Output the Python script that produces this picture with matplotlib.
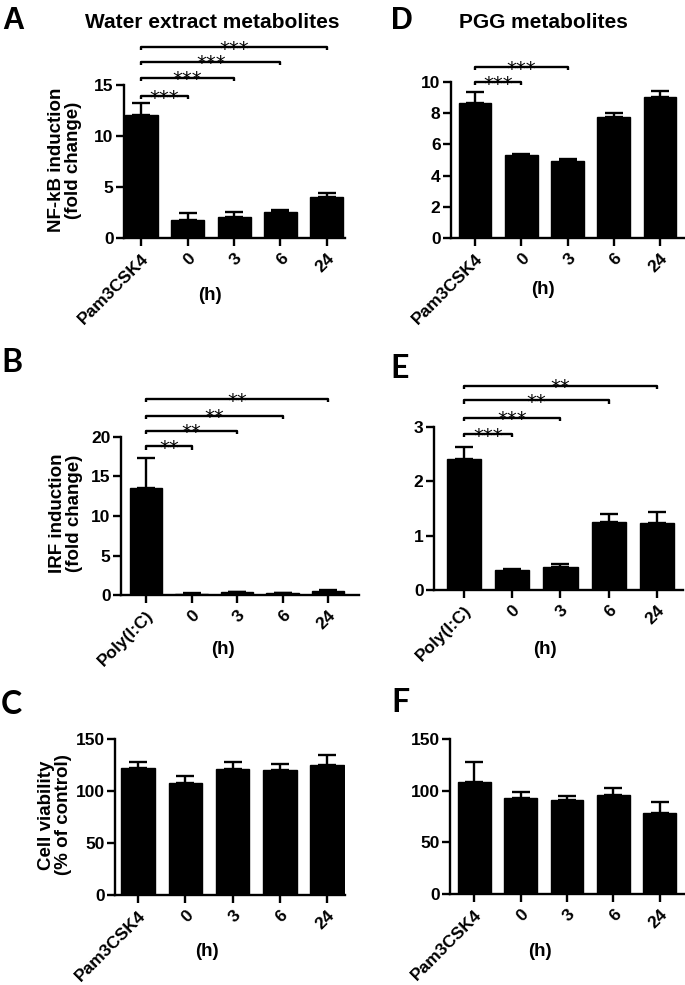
import matplotlib
matplotlib.use('Agg')
import matplotlib.pyplot as plt
import numpy as np

plt.rcParams['font.family'] = ['Liberation Sans', 'DejaVu Sans']
plt.rcParams['font.weight'] = 'bold'

W, H = 685, 985

# ---- data ----
pam_labels = ['Pam3CSK4', '0', '3', '6', '24']
poly_labels = ['Poly(I:C)', '0', '3', '6', '24']

# A: water extract, NF-kB
a_mean = [12.06, 1.76, 2.03, 2.52, 3.99]
a_err = [1.15, 0.66, 0.52, 0.23, 0.45]
a_sig = ['***', '***', '***', '***']
a_brk = [13.9, 15.7, 17.3, 18.7]

# B: water extract, IRF
b_mean = [13.6, 0.15, 0.35, 0.25, 0.5]
b_err = [3.8, 0.05, 0.05, 0.05, 0.08]
b_sig = ['**', '**', '**', '**']
b_brk = [18.8, 20.8, 22.7, 24.8]

# C: water extract, viability
c_mean = [121.9, 107.5, 121.4, 120.4, 124.6]
c_err = [5.8, 7.1, 6.1, 5.8, 10.3]

# D: PGG, NF-kB
d_mean = [8.67, 5.30, 4.95, 7.78, 9.03]
d_err = [0.69, 0.11, 0.11, 0.26, 0.37]
d_sig = ['***', '***']
d_brk = [10.0, 10.97]

# E: PGG, IRF
e_mean = [2.42, 0.36, 0.43, 1.26, 1.24]
e_err = [0.22, 0.02, 0.05, 0.14, 0.19]
e_sig = ['***', '***', '**', '**']
e_brk = [2.87, 3.17, 3.49, 3.76]

# F: PGG, viability
f_mean = [108.0, 93.3, 90.7, 96.1, 78.1]
f_err = [19.3, 5.2, 4.2, 6.5, 11.3]

fig = plt.figure(figsize=(W / 100, H / 100), dpi=100)


def make_ax(left, right, top, bottom):
    return fig.add_axes([left / W, 1 - bottom / H, (right - left) / W, (bottom - top) / H])


def panel(box, xlim, means, errs, labels, ymax, yticks, sig=None, brk=None):
    ax = make_ax(*box)
    x = np.arange(len(means))
    ax.bar(x, means, width=0.71, color='black', edgecolor='black', zorder=2)
    ax.errorbar(x, means, yerr=[np.zeros(len(errs)), errs], fmt='none', ecolor='black',
                elinewidth=1.7, capsize=6.5, capthick=1.7, zorder=1)
    ax.set_xlim(*xlim)
    ax.set_ylim(0, ymax)
    ax.set_yticks(yticks)
    ax.set_yticklabels([str(t) for t in yticks], fontsize=12.5, fontweight='bold')
    ax.set_xticks(x)
    ax.set_xticklabels(labels, rotation=45, ha='right', rotation_mode='anchor',
                       fontsize=12.5, fontweight='bold')
    for s in ['top', 'right']:
        ax.spines[s].set_visible(False)
    for s in ['left', 'bottom']:
        ax.spines[s].set_linewidth(1.7)
    ax.tick_params(axis='both', length=5.5, width=1.7, pad=2)
    ax.tick_params(axis='x', pad=4)
    if sig is not None:
        tl = ymax * 0.02
        for j, (s, h) in enumerate(zip(sig, brk)):
            xe = j + 1
            ax.plot([0, 0, xe, xe], [h - tl, h, h, h - tl], color='black', lw=1.7,
                    clip_on=False, solid_capstyle='butt')
            ax.annotate(s, (xe / 2, h), xytext=(0, -5.5), textcoords='offset points',
                        ha='center', va='baseline', fontsize=14, fontweight='normal',
                        family='DejaVu Sans', annotation_clip=False)
    return ax


panel((124, 345, 85, 238), (-0.37, 4.39), a_mean, a_err, pam_labels, 15, [0, 5, 10, 15], a_sig, a_brk)
panel((121, 359, 437, 595), (-0.55, 4.68), b_mean, b_err, poly_labels, 20, [0, 5, 10, 15, 20], b_sig, b_brk)
panel((115, 345, 739, 895), (-0.49, 4.38), c_mean, c_err, pam_labels, 150, [0, 50, 100, 150])
panel((451, 684, 82, 238), (-0.52, 4.52), d_mean, d_err, pam_labels, 10, [0, 2, 4, 6, 8, 10], d_sig, d_brk)
panel((434, 683, 427, 590), (-0.62, 4.54), e_mean, e_err, poly_labels, 3, [0, 1, 2, 3], e_sig, e_brk)
panel((450, 684, 739, 894), (-0.52, 4.52), f_mean, f_err, pam_labels, 150, [0, 50, 100, 150])


def ftext(x, y, s, **kw):
    fig.text(x / W, 1 - y / H, s, **kw)


# y labels
ylab = dict(rotation=90, ha='center', va='center', fontsize=13.5, fontweight='bold', linespacing=1.05)
ftext(65, 160, 'NF-kB induction\n(fold change)', **ylab)
ftext(66, 513, 'IRF induction\n(fold change)', **ylab)
ftext(55, 815, 'Cell viability\n(% of control)', **ylab)

# (h) labels
hl = dict(ha='center', va='center', fontsize=13.5, fontweight='bold')
ftext(210, 295, '(h)', **hl)
ftext(223, 650, '(h)', **hl)
ftext(207, 952, '(h)', **hl)
ftext(543, 290, '(h)', **hl)
ftext(545, 650, '(h)', **hl)
ftext(540, 952, '(h)', **hl)

# titles
ftext(212, 22, 'Water extract metabolites', ha='center', va='center', fontsize=15, fontweight='bold')
ftext(543, 22, 'PGG metabolites', ha='center', va='center', fontsize=15, fontweight='bold')

# panel letters
pl = dict(ha='center', va='center', fontsize=22, fontweight='bold')
ftext(13, 21, 'A', **pl)
ftext(402, 21, 'D', **pl)
pl2 = dict(ha='center', va='center', fontsize=23, fontweight='bold', family='Lato')
ftext(12, 363, 'B', **pl2)
ftext(400, 368, 'E', **pl2)
ftext(11, 704, 'C', **pl2)
ftext(400, 703, 'F', **pl2)

fig.savefig('out.png', dpi=100)
